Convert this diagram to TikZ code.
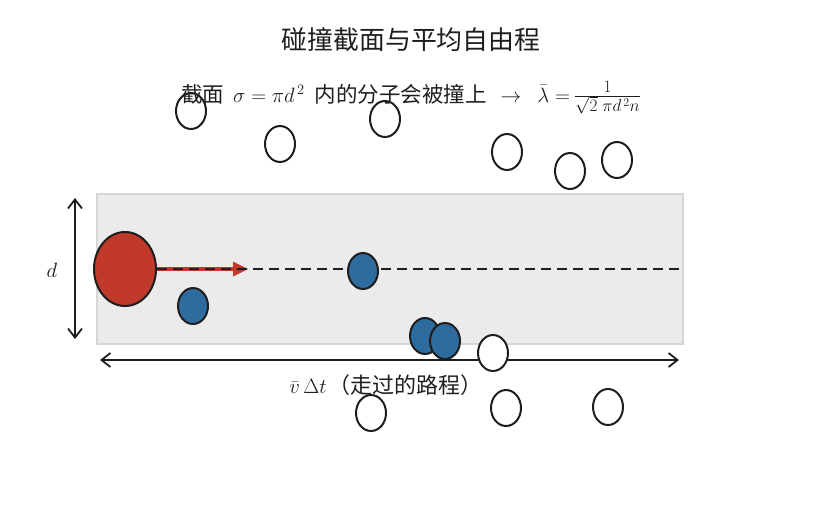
\documentclass[tikz,border=0pt]{standalone}
\usepackage{fontspec}
\setmainfont{Noto Sans CJK SC}
\usetikzlibrary{shapes.geometric,arrows.meta}
\definecolor{ballred}{HTML}{C0392B}
\definecolor{ballblue}{HTML}{2E6B9E}
\definecolor{bandgray}{HTML}{EBEBEB}
\definecolor{bandedge}{HTML}{D6D6D6}
\definecolor{ink}{HTML}{1E1E1E}
\tikzset{
  mol/.style={ellipse, draw=ink, line width=2pt, minimum width=30pt, minimum height=36pt, inner sep=0pt},
  wmol/.style={mol, fill=white},
  bmol/.style={mol, fill=ballblue},
  dimarrow/.style={ink, line width=1.8pt, {Straight Barb[length=9pt,width=14pt]}-{Straight Barb[length=9pt,width=14pt]}},
  txt/.style={text=ink, inner sep=0pt}
}
\begin{document}
\begin{tikzpicture}[x=1pt,y=-1pt]
\useasboundingbox (0,0) rectangle (821,504);
% band
\node[draw=bandedge, fill=bandgray, line width=1.5pt, minimum width=586pt, minimum height=150pt, inner sep=0pt] (band) at (390,269) {};
% white molecules
\node[wmol] (w1) at (191,111) {};
\node[wmol] (w2) at (280,144) {};
\node[wmol] (w3) at (385,119) {};
\node[wmol] (w4) at (507,152) {};
\node[wmol] (w5) at (570,171) {};
\node[wmol] (w6) at (617,160) {};
% path axis
\coordinate (pathend) at (683,269);
% red molecule
\node[mol, fill=ballred, minimum width=62pt, minimum height=74pt] (red) at (125,269) {};
\coordinate (arrtip) at (248,269);
\draw[ballred, line width=4.5pt] (red.east) -- ([xshift=-10pt]arrtip);
\fill[ballred] (arrtip) -- ++(-15,-7.5) -- ++(0,15) -- cycle;
\draw[ink, line width=2.2pt, dash pattern=on 10pt off 6pt] (red.east) -- (pathend);
% blue molecules
\node[bmol] (b1) at (193,306) {};
\node[bmol] (b2) at (363,271) {};
\node[bmol] (b3) at (425,336) {};
\node[bmol] (b4) at (445,341) {};
% dimension arrows
\coordinate (dtop) at (75,198);
\coordinate (dbot) at (75,339);
\draw[dimarrow] (dtop) -- (dbot);
\node[txt, font=\fontsize{21}{24}\selectfont] (dlab) at (52,270) {$d$};
\coordinate (hl) at (100,360);
\coordinate (hr) at (679,360);
\draw[dimarrow] (hl) -- (hr);
\node[txt, font=\fontsize{22}{24}\selectfont] (hlab) at (386,385) {$\bar v\,\Delta t$\hspace{2pt}（走过的路程）};
% lower white molecules
\node[wmol] (w7) at (493,353) {};
\node[wmol] (w8) at (371,413) {};
\node[wmol] (w9) at (506,408) {};
\node[wmol] (w10) at (608,407) {};
% texts
\node[txt, font=\fontsize{25.9}{30}\selectfont] (title) at (411,40) {碰撞截面与平均自由程};
\node[txt, font=\fontsize{21.5}{26}\selectfont, anchor=base west] (sub) at (181,102) {截面\hspace{9pt}$\sigma=\pi d^{\,2}$\hspace{10pt}内的分子会被撞上\hspace{14pt}$\rightarrow$\hspace{16pt}$\bar\lambda=$\hspace{4pt}{\fontsize{24}{28}\selectfont$\frac{1}{\sqrt{2}\;\pi d^{\,2} n}$}};
\end{tikzpicture}
\end{document}
